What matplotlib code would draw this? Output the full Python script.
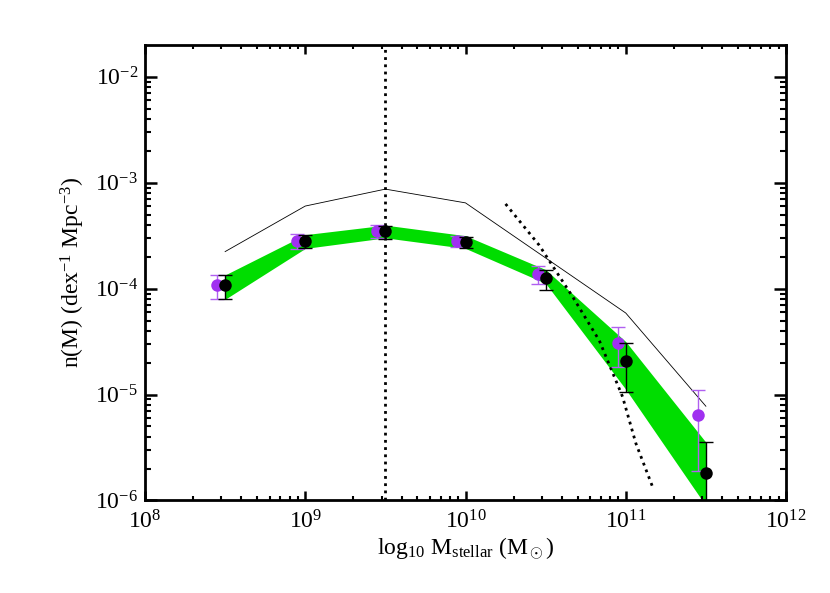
import matplotlib
matplotlib.use("Agg")
import matplotlib.pyplot as plt
from matplotlib.ticker import FuncFormatter, LogLocator
import numpy as np

plt.rcParams['font.family'] = ['Liberation Serif', 'DejaVu Serif']
plt.rcParams['mathtext.fontset'] = 'custom'
plt.rcParams['mathtext.rm'] = 'Liberation Serif'
plt.rcParams['mathtext.it'] = 'Liberation Serif:italic'

# log10 stellar mass bins
black_logm = [8.5, 9.0, 9.5, 10.0, 10.5, 11.0, 11.5]
purple_logm = [8.45, 8.95, 9.45, 9.95, 10.45, 10.95, 11.45]

# log10 n(M) values and error bar ends
black_logn = [-3.97, -3.55, -3.46, -3.56, -3.90, -4.68, -5.74]
black_hi = [-3.87, -3.49, -3.41, -3.51, -3.82, -4.51, -5.45]
black_lo = [-4.10, -3.62, -3.53, -3.62, -4.01, -4.98, -7.00]

purple_logn = [-3.97, -3.55, -3.46, -3.55, -3.86, -4.51, -5.19]
purple_hi = [-3.87, -3.48, -3.40, -3.50, -3.79, -4.36, -4.96]
purple_lo = [-4.10, -3.63, -3.52, -3.61, -3.96, -4.74, -5.72]

# green band
band_hi = [-3.87, -3.49, -3.40, -3.50, -3.82, -4.50, -5.45]
band_lo = [-4.10, -3.62, -3.52, -3.62, -3.95, -4.95, -6.05]

# thin solid line
thin_logn = [-3.65, -3.22, -3.06, -3.19, -3.71, -4.23, -5.11]

# dotted curve
dot_logm = [10.25, 10.46, 10.67, 10.835, 10.98, 11.063, 11.167]
dot_logn = [-3.20, -3.59, -4.08, -4.49, -5.02, -5.46, -5.87]

vline_logm = 9.5


def p10(a):
    return 10.0 ** np.asarray(a)


fig = plt.figure(figsize=(8.3, 5.93), dpi=100)
ax = fig.add_axes([0.1747, 0.156, 0.947 - 0.1747, 0.924 - 0.156])

ax.fill_between(p10(black_logm), p10(band_lo), p10(band_hi),
                color='#00dd00', linewidth=0, zorder=1)
ax.plot(p10(black_logm), p10(thin_logn), color='black', lw=0.6, zorder=2)
ax.plot(p10(dot_logm), p10(dot_logn), color='black', lw=2.0,
        linestyle=(0, (1, 1.6)), zorder=3)
ax.axvline(10 ** vline_logm, color='black', lw=2.0,
           linestyle=(0, (1, 1.6)), zorder=3)

# error bars with caps, then the dots on top
py = p10(purple_logn)
ax.errorbar(p10(purple_logm), py,
            yerr=[py - p10(purple_lo), p10(purple_hi) - py],
            fmt='none', ecolor='#b060f0', elinewidth=1.0,
            capsize=5, capthick=1.0, zorder=4)
ax.plot(p10(purple_logm), py, 'o', color='#a030f0', ms=9, mew=0, zorder=4.5)
by = p10(black_logn)
ax.errorbar(p10(black_logm), by,
            yerr=[by - p10(black_lo), p10(black_hi) - by],
            fmt='none', ecolor='black', elinewidth=1.0,
            capsize=5, capthick=1.0, zorder=5)
ax.plot(p10(black_logm), by, 'o', color='black', ms=9, mew=0, zorder=5.5)

ax.set_xscale('log')
ax.set_yscale('log')
ax.set_xlim(1e8, 1e12)
ax.set_ylim(1e-6, 10 ** -1.70)

fmt = FuncFormatter(lambda v, pos: r'$\mathregular{10^{%d}}$' % round(np.log10(v)))
ax.xaxis.set_major_locator(LogLocator(base=10, numticks=10))
ax.yaxis.set_major_locator(LogLocator(base=10, numticks=10))
ax.xaxis.set_minor_locator(LogLocator(base=10, subs=np.arange(2, 10), numticks=20))
ax.yaxis.set_minor_locator(LogLocator(base=10, subs=np.arange(2, 10), numticks=20))
ax.xaxis.set_major_formatter(fmt)
ax.yaxis.set_major_formatter(fmt)

ax.tick_params(axis='both', which='both', direction='in', top=True, right=True,
               labelsize=17)
ax.tick_params(axis='x', which='major', length=6.2, width=1.8, pad=7)
ax.tick_params(axis='x', which='minor', length=3.0, width=1.5)
ax.tick_params(axis='y', which='major', length=8.6, width=1.8, pad=5)
ax.tick_params(axis='y', which='minor', length=4.3, width=1.5)

for s in ax.spines.values():
    s.set_linewidth(2.0)

ax.set_xlabel(r'log$_{10}$ M$_{\rm stellar}$ (M$_\odot$)', fontsize=17, labelpad=2)
ax.set_ylabel(r'n(M) (dex$^{-1}$ Mpc$^{-3}$)', fontsize=17, labelpad=6)

plt.savefig('out.png', dpi=100)
